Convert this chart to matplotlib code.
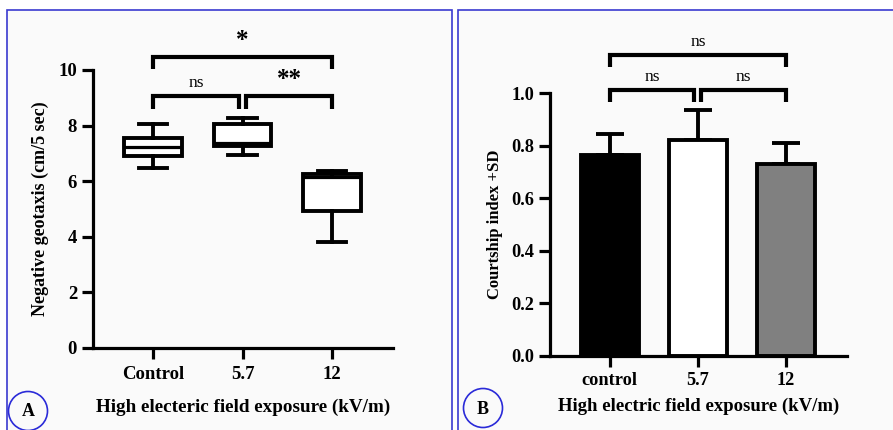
import matplotlib
matplotlib.use("Agg")
import matplotlib.pyplot as plt
from matplotlib.patches import Rectangle, Circle

# ---- data ----
groups_a = ["Control", "5.7", "12"]
whisker_low = [6.48, 6.96, 3.82]
q1 = [6.90, 7.27, 4.94]
median = [7.24, 7.38, 6.15]
q3 = [7.56, 8.04, 6.25]
whisker_high = [8.07, 8.28, 6.38]

groups_b = ["control", "5.7", "12"]
courtship_mean = [0.764, 0.822, 0.731]
courtship_sd = [0.080, 0.114, 0.081]
bar_colors = ["#000000", "#ffffff", "#808080"]

sig_a = [("ns", 0, 1), ("**", 1, 2), ("*", 0, 2)]
sig_b = [("ns", 0, 1), ("ns", 1, 2), ("ns", 0, 2)]

plt.rcParams['font.family'] = ['Liberation Serif', 'DejaVu Serif']
LW = 2.3
FS_TICK = 13.5
FS_XLAB = 13.8

W, H = 893, 430
fig = plt.figure(figsize=(W / 100, H / 100), dpi=100)
fig.patch.set_facecolor("white")

# background decoration axes in pixel coordinates
bg = fig.add_axes([0, 0, 1, 1], zorder=-5)
bg.set_xlim(0, W)
bg.set_ylim(H, 0)
bg.axis("off")
for (x0, x1) in [(7, 452), (458, 920)]:
    bg.add_patch(Rectangle((x0, 9.5), x1 - x0, 440, facecolor="#fafafa",
                           edgecolor="#3a3ad0", lw=1.2))
for (cx, cy, lab) in [(28, 411, "A"), (483, 408, "B")]:
    bg.add_patch(Circle((cx, cy), 19.5, facecolor="none", edgecolor="#2a2ad8", lw=1.2))
    bg.text(cx, cy + 1, lab, ha="center", va="center", fontsize=13, fontweight="bold")


def style_axes(ax, fs):
    ax.set_facecolor("none")
    for s in ["top", "right"]:
        ax.spines[s].set_visible(False)
    for s in ["left", "bottom"]:
        ax.spines[s].set_linewidth(LW)
    ax.tick_params(width=LW, length=8, labelsize=fs, direction="out")
    for lab in ax.get_xticklabels() + ax.get_yticklabels():
        lab.set_fontweight("bold")


def brackets(ax, sigs, levels, leg, text_off, fontsizes, gap):
    for (txt, i, j), y in zip(sigs, levels):
        xi = i + (gap if (i == 1) else 0)
        xj = j - (gap if (j == 1) else 0)
        ax.plot([xi, xi, xj, xj], [y - leg, y, y, y - leg], color="black",
                lw=LW + 0.7, clip_on=False, solid_joinstyle="miter", solid_capstyle="butt")
        fs, fw = fontsizes[txt]
        ax.text((xi + xj) / 2, y + text_off, txt, ha="center", va="bottom",
                fontsize=fs, fontweight=fw, clip_on=False)


# ---- panel A ----
axA = fig.add_axes([93 / W, 82 / H, 300 / W, 278 / H])
stats = []
for k in range(3):
    stats.append(dict(whislo=whisker_low[k], q1=q1[k], med=median[k], q3=q3[k],
                      whishi=whisker_high[k], fliers=[], label=groups_a[k]))
axA.bxp(stats, positions=[0, 1, 2], widths=0.64, capwidths=0.32, showfliers=False,
        patch_artist=True,
        boxprops=dict(facecolor="white", edgecolor="black", linewidth=LW + 0.5),
        medianprops=dict(color="black", linewidth=LW),
        whiskerprops=dict(color="black", linewidth=LW + 0.5),
        capprops=dict(color="black", linewidth=LW + 0.5))
axA.set_xlim(-0.67, 2.68)
axA.set_ylim(0, 10)
axA.set_yticks([0, 2, 4, 6, 8, 10])
axA.set_xticks([0, 1, 2])
axA.set_xticklabels(groups_a)
axA.set_ylabel("Negative geotaxis (cm/5 sec)", fontsize=13, fontweight="bold", labelpad=7)
axA.set_xlabel("High electeric field exposure (kV/m)", fontsize=FS_XLAB, fontweight="bold", labelpad=11)
style_axes(axA, FS_TICK)
axA.tick_params(axis="x", pad=5)
brackets(axA, sig_a, [9.06, 9.06, 10.48], 0.46, 0.18,
         {"ns": (12.5, "normal"), "**": (18, "bold"), "*": (18, "bold")}, 0.04)

# ---- panel B ----
axB = fig.add_axes([550 / W, 74.3 / H, 296.7 / W, 262.4 / H])
axB.bar([0, 1, 2], courtship_mean, width=0.66, color=bar_colors, edgecolor="black",
        linewidth=LW + 0.5, zorder=2)
axB.errorbar([0, 1, 2], courtship_mean, yerr=[[0, 0, 0], courtship_sd], fmt="none",
             ecolor="black", elinewidth=LW + 0.5, capsize=10, capthick=LW + 0.5, zorder=1)
axB.set_xlim(-0.68, 2.69)
axB.set_ylim(0, 1.0)
axB.set_yticks([0, 0.2, 0.4, 0.6, 0.8, 1.0])
axB.set_yticklabels(["0.0", "0.2", "0.4", "0.6", "0.8", "1.0"])
axB.set_xticks([0, 1, 2])
axB.set_xticklabels(groups_b)
axB.set_ylabel("Courtship index +SD", fontsize=12, fontweight="bold", labelpad=6)
axB.set_xlabel("High electric field exposure (kV/m)", fontsize=FS_XLAB - 0.3, fontweight="bold", labelpad=6)
style_axes(axB, 13.2)
axB.tick_params(axis="x", pad=4)
brackets(axB, sig_b, [1.013, 1.013, 1.146], 0.045, 0.02,
         {"ns": (12.5, "normal")}, 0.04)

fig.savefig("out.png", dpi=100)
